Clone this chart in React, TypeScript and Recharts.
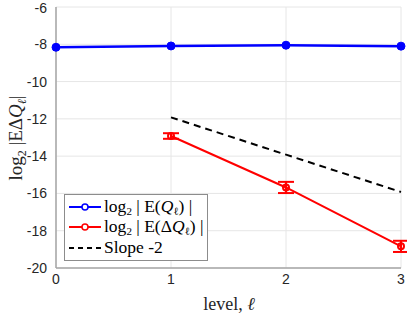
import { LineChart, Line, XAxis, YAxis, CartesianGrid, ErrorBar } from "recharts";

const levels = [0, 1, 2, 3];
const logMeanQ = [-8.16, -8.09, -8.05, -8.1];
const logMeanDQ = [null, -12.92, -15.68, -18.84];
const dqErr = [null, 0.15, 0.3, 0.3];
const slopeRef = [null, -11.92, -13.92, -15.92];
const yTicks = [-20, -18, -16, -14, -12, -10, -8, -6];
const xTicks = [0, 1, 2, 3];

const data = levels.map((l, i) => ({
  level: l,
  q: logMeanQ[i],
  dq: logMeanDQ[i],
  err: dqErr[i],
  slope: slopeRef[i],
}));

const serif = "'Liberation Serif', 'DejaVu Serif', serif";
const sans = "'Liberation Sans', Arial, sans-serif";
const tick = { fontSize: 14, fill: "#262626", fontFamily: sans };

function LegendBox() {
  const row = (color: string, dashed: boolean, marker: boolean, label: React.ReactNode, h: number) => (
    <div style={{ display: "flex", alignItems: "center", height: h }}>
      <svg width={36} height={12} style={{ flexShrink: 0 }}>
        <line x1={2} y1={6} x2={34} y2={6} stroke={color} strokeWidth={2} strokeDasharray={dashed ? "5 4" : undefined} />
        {marker && <circle cx={18} cy={6} r={3} fill="#fff" stroke={color} strokeWidth={1.5} />}
      </svg>
      <span style={{ marginLeft: 1, whiteSpace: "nowrap" }}>{label}</span>
    </div>
  );
  const sub = (s: string) => <sub style={{ fontSize: 11, verticalAlign: "-3px", lineHeight: 0 }}>{s}</sub>;
  return (
    <div style={{ position: "absolute", left: 64, top: 194, background: "#fff", border: "1px solid #8c8c8c", padding: "2px 3px 1px 2px", fontFamily: serif, fontSize: 17.5, color: "#000", lineHeight: 1 }}>
      {row("#0000ff", false, true, <>log{sub("2")} | E(<i>Q</i>{sub("ℓ")}) |</>, 20)}
      {row("#ff0000", false, true, <>log{sub("2")} | E(Δ<i>Q</i>{sub("ℓ")}) |</>, 20)}
      {row("#000", true, false, <>Slope -2</>, 22)}
    </div>
  );
}

export default function App() {
  return (
    <div style={{ position: "absolute", left: 0, top: 0, width: 407, height: 315, background: "#fff" }}>
      <LineChart width={407} height={315} data={data} margin={{ top: 7, right: 6, bottom: 0, left: 0 }}>
        <CartesianGrid stroke="#e6e6e6" strokeWidth={1} />
        <XAxis
          dataKey="level"
          type="number"
          domain={[0, 3]}
          ticks={xTicks}
          tick={tick}
          tickLine={false}
          tickSize={0}
          tickMargin={6}
          height={47}
          axisLine={{ stroke: "#a6a6a6", strokeWidth: 1.5 }}
          label={{
            content: () => (
              <text x={229} y={310} textAnchor="middle" fontFamily={serif} fontSize={18} fill="#262626">
                level, <tspan fontStyle="italic">ℓ</tspan>
              </text>
            ),
          }}
        />
        <YAxis
          type="number"
          domain={[-20, -6]}
          ticks={yTicks}
          tick={tick}
          tickLine={false}
          tickSize={0}
          tickMargin={9}
          width={56}
          axisLine={{ stroke: "#a6a6a6", strokeWidth: 1.5 }}
          label={{
            content: () => (
              <text x={0} y={0} transform="translate(22,138) rotate(-90)" textAnchor="middle" fontFamily={serif} fontSize={19} fill="#262626">
                log<tspan fontSize={12} dy={4}>2</tspan>
                <tspan dy={-4}> |EΔ</tspan>
                <tspan fontStyle="italic">Q</tspan>
                <tspan fontSize={12} fontStyle="italic" dy={4}>ℓ</tspan>
                <tspan dy={-4}>|</tspan>
              </text>
            ),
          }}
        />
        <Line dataKey="q" stroke="#0000ff" strokeWidth={2.5} dot={{ r: 4, fill: "#0000ff", stroke: "#0000ff", strokeWidth: 1 }} isAnimationActive={false} />
        <Line dataKey="slope" stroke="#000" strokeWidth={2} strokeDasharray="7 5" dot={false} isAnimationActive={false} />
        <Line dataKey="dq" stroke="#ff0000" strokeWidth={2} dot={{ r: 3, fill: "none", stroke: "#ff0000", strokeWidth: 2 }} isAnimationActive={false}>
          <ErrorBar dataKey="err" width={8} stroke="#ff0000" strokeWidth={2} isAnimationActive={false} />
        </Line>
      </LineChart>
      <LegendBox />
    </div>
  );
}
